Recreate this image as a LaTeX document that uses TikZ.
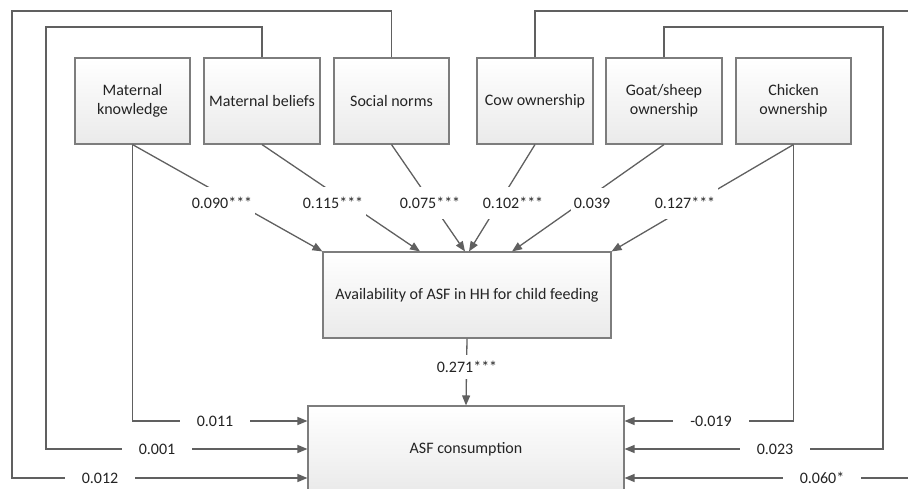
\documentclass[tikz,border=0pt]{standalone}
\usepackage{fontspec}
\setmainfont{Carlito}
\usetikzlibrary{arrows.meta,shadows}
\definecolor{linec}{RGB}{96,96,96}
\definecolor{boxc}{RGB}{125,125,125}
\definecolor{fillbot}{RGB}{234,234,234}
\definecolor{txtc}{RGB}{35,35,35}
\begin{document}
\begin{tikzpicture}[x=1pt,y=-1pt,
  box/.style={draw=boxc, line width=1.1pt, top color=white, bottom color=fillbot,
    align=center, font=\fontsize{16}{19}\selectfont, text=txtc, inner sep=0pt,
    drop shadow={shadow xshift=1.2pt, shadow yshift=-1.2pt, opacity=0.15, fill=black!50}},
  topbox/.style={box, minimum width=115pt, minimum height=86pt},
  conn/.style={draw=linec, line width=1.3pt},
  arr/.style={conn, -{Triangle[length=10pt,width=8pt]}},
  lab/.style={fill=white, text=txtc, font=\fontsize{16}{19}\selectfont, inner xsep=3pt, inner ysep=10pt},
  hlab/.style={lab, inner xsep=17pt, inner ysep=3pt},
  vlab/.style={lab, inner ysep=6.5pt}]
\useasboundingbox (0,0) rectangle (908,489);

% boxes
\node[topbox] (mk) at (132.5,101) {Maternal\\knowledge};
\node[topbox, minimum width=116pt] (mb) at (262,101) {Maternal beliefs};
\node[topbox] (sn) at (391.5,101) {Social norms};
\node[topbox, minimum width=116pt] (cow) at (535,101) {Cow ownership};
\node[topbox, minimum width=116pt] (goat) at (664,101) {Goat/sheep\\ownership};
\node[topbox] (ch) at (793.5,101) {Chicken\\ownership};
\node[box, minimum width=288pt, minimum height=86pt] (av) at (467,295) {Availability of ASF in HH for child feeding};
\node[box, minimum width=316pt, minimum height=86pt] (asf) at (466,449) {ASF consumption};

% arrows into availability
\draw[arr] (mk.south) -- (av.north west);
\draw[arr] (mb.south) -- ([xshift=-47pt]av.north);
\draw[arr] (sn.south) -- ([xshift=-2pt]av.north);
\draw[arr] (cow.south) -- ([xshift=2pt]av.north);
\draw[arr] (goat.south) -- ([xshift=45pt]av.north);
\draw[arr] (ch.south) -- (av.north east);

% availability to consumption
\draw[arr] (av.south) -- (asf.north);

% direct paths, left
\draw[arr] (mk.south) |- ([yshift=28pt]asf.west);
\draw[arr] (mb.north) |- (46,27) |- (asf.west);
\draw[arr] (sn.north) |- (12,11) |- ([yshift=-29pt]asf.west);

% direct paths, right
\draw[arr] (ch.south) |- ([yshift=28pt]asf.east);
\draw[arr] (goat.north) |- (883,27) |- (asf.east);
\draw[arr] (cow.north) |- (912,11) |- ([yshift=-29pt]asf.east);

% labels
\node[lab] (l1) at (222,203) {0.090***};
\node[lab] (l2) at (333,203) {0.115***};
\node[lab] (l3) at (430,203) {0.075***};
\node[lab] (l4) at (513,203) {0.102***};
\node[lab] (l5) at (592,203) {0.039};
\node[lab] (l6) at (685,203) {0.127***};
\node[vlab] (l7) at (467,367) {0.271***};
\node[hlab] (l8) at (215,421) {0.011};
\node[hlab] (l9) at (157,449) {0.001};
\node[hlab] (l10) at (100,478) {0.012};
\node[hlab] (l11) at (711,421) {-0.019};
\node[hlab] (l12) at (775,449) {0.023};
\node[hlab] (l13) at (822,478) {0.060*};
\end{tikzpicture}
\end{document}
